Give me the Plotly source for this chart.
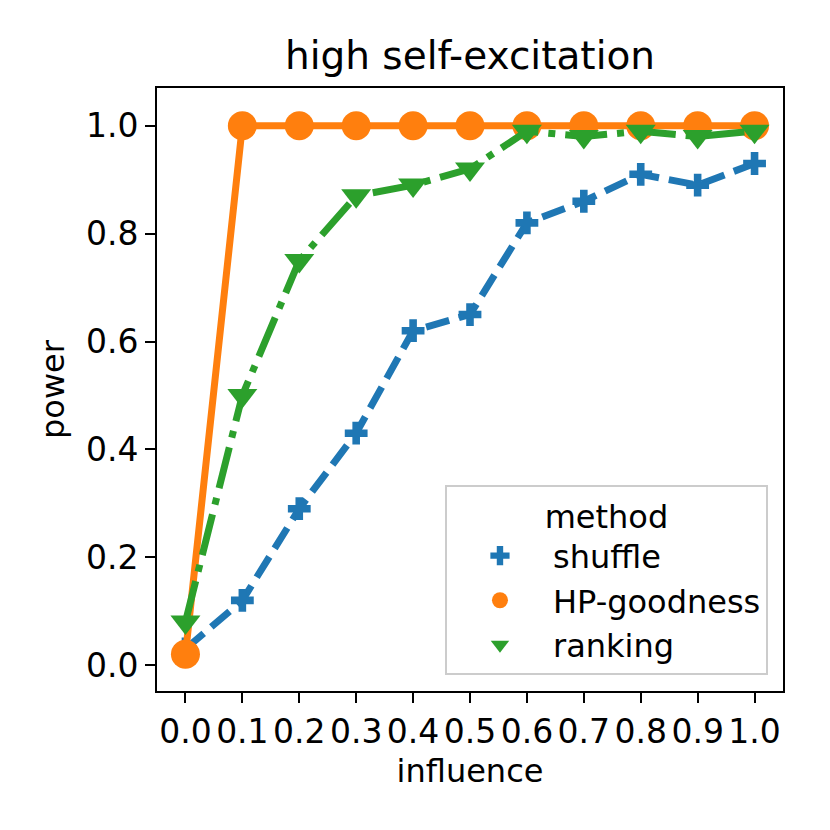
import plotly.graph_objects as go

# influence levels (categorical x axis)
influence = ["0.0", "0.1", "0.2", "0.3", "0.4", "0.5", "0.6", "0.7", "0.8", "0.9", "1.0"]

# power for each method
shuffle = [0.03, 0.12, 0.29, 0.43, 0.62, 0.65, 0.82, 0.86, 0.91, 0.89, 0.93]
hp_goodness = [0.02, 1.0, 1.0, 1.0, 1.0, 1.0, 1.0, 1.0, 1.0, 1.0, 1.0]
ranking = [0.08, 0.50, 0.75, 0.87, 0.89, 0.92, 0.99, 0.98, 0.99, 0.98, 0.99]

methods = ["shuffle", "HP-goodness", "ranking"]
values = [shuffle, hp_goodness, ranking]
colors = ["#1f77b4", "#ff7f0e", "#2ca02c"]
symbols = ["cross", "circle", "triangle-down"]
sizes = [19, 29, 26]
dashes = ["24px,10px", "solid", "42px,10px,7px,10px"]

FONT = "DejaVu Sans"
# the page body has an 8px margin, so the figure is a bit smaller than the window
W = 822
H = 822


def create_trace(name, y_values, color, symbol, size, dash):
    return go.Scatter(
        x=influence,
        y=y_values,
        name=name,
        mode="lines+markers",
        line=dict(color=color, width=7, dash=dash),
        marker=dict(color=color, symbol=symbol, size=size, line=dict(width=0)),
        showlegend=False,
    )


def legend_trace(name, color, symbol, size):
    # marker-only entry so the legend matches the reference (no line sample)
    return go.Scatter(
        x=[None],
        y=[None],
        name=name,
        mode="markers",
        marker=dict(color=color, symbol=symbol, size=size, line=dict(width=0)),
    )


fig = go.Figure()
for name, vals, c, s, sz, d in zip(methods, values, colors, symbols, sizes, dashes):
    fig.add_trace(create_trace(name, vals, c, s, sz, d))
for name, c, s, sz in zip(methods, colors, symbols, sizes):
    fig.add_trace(legend_trace(name, c, s, sz))

axis_style = dict(
    showline=True,
    linecolor="black",
    linewidth=2,
    mirror=True,
    ticks="outside",
    ticklen=10,
    tickwidth=2,
    tickcolor="black",
    showgrid=False,
    zeroline=False,
    automargin=False,
    tickfont=dict(family=FONT, size=33, color="black"),
)

fig.update_layout(
    width=W,
    height=H,
    margin=dict(l=149, r=47, t=80, b=139, autoexpand=False),
    paper_bgcolor="white",
    plot_bgcolor="white",
    font=dict(family=FONT, size=32, color="black"),
    title=dict(
        text="high self-excitation",
        x=462 / W,
        xanchor="center",
        y=1 - 47 / H,
        yanchor="middle",
        font=dict(family=FONT, size=39, color="black"),
    ),
    xaxis=dict(
        axis_style,
        type="category",
        range=[-0.5, 10.5],
        tickangle=0,
        title=dict(text="influence", standoff=10, font=dict(family=FONT, size=32)),
    ),
    yaxis=dict(
        axis_style,
        range=[-0.048, 1.07],
        tickvals=[0.0, 0.2, 0.4, 0.6, 0.8, 1.0],
        ticktext=["0.0", "0.2", "0.4", "0.6", "0.8", "1.0"],
        title=dict(text="power", standoff=12, font=dict(family=FONT, size=32)),
    ),
    legend=dict(
        x=0.976,
        y=0.027,
        xanchor="right",
        yanchor="bottom",
        bgcolor="white",
        bordercolor="#cccccc",
        borderwidth=2,
        itemwidth=96,
        font=dict(family=FONT, size=32, color="black"),
        title=dict(text="method", side="top center", font=dict(family=FONT, size=32)),
        itemsizing="trace",
    ),
)

fig.write_html("out.html")
